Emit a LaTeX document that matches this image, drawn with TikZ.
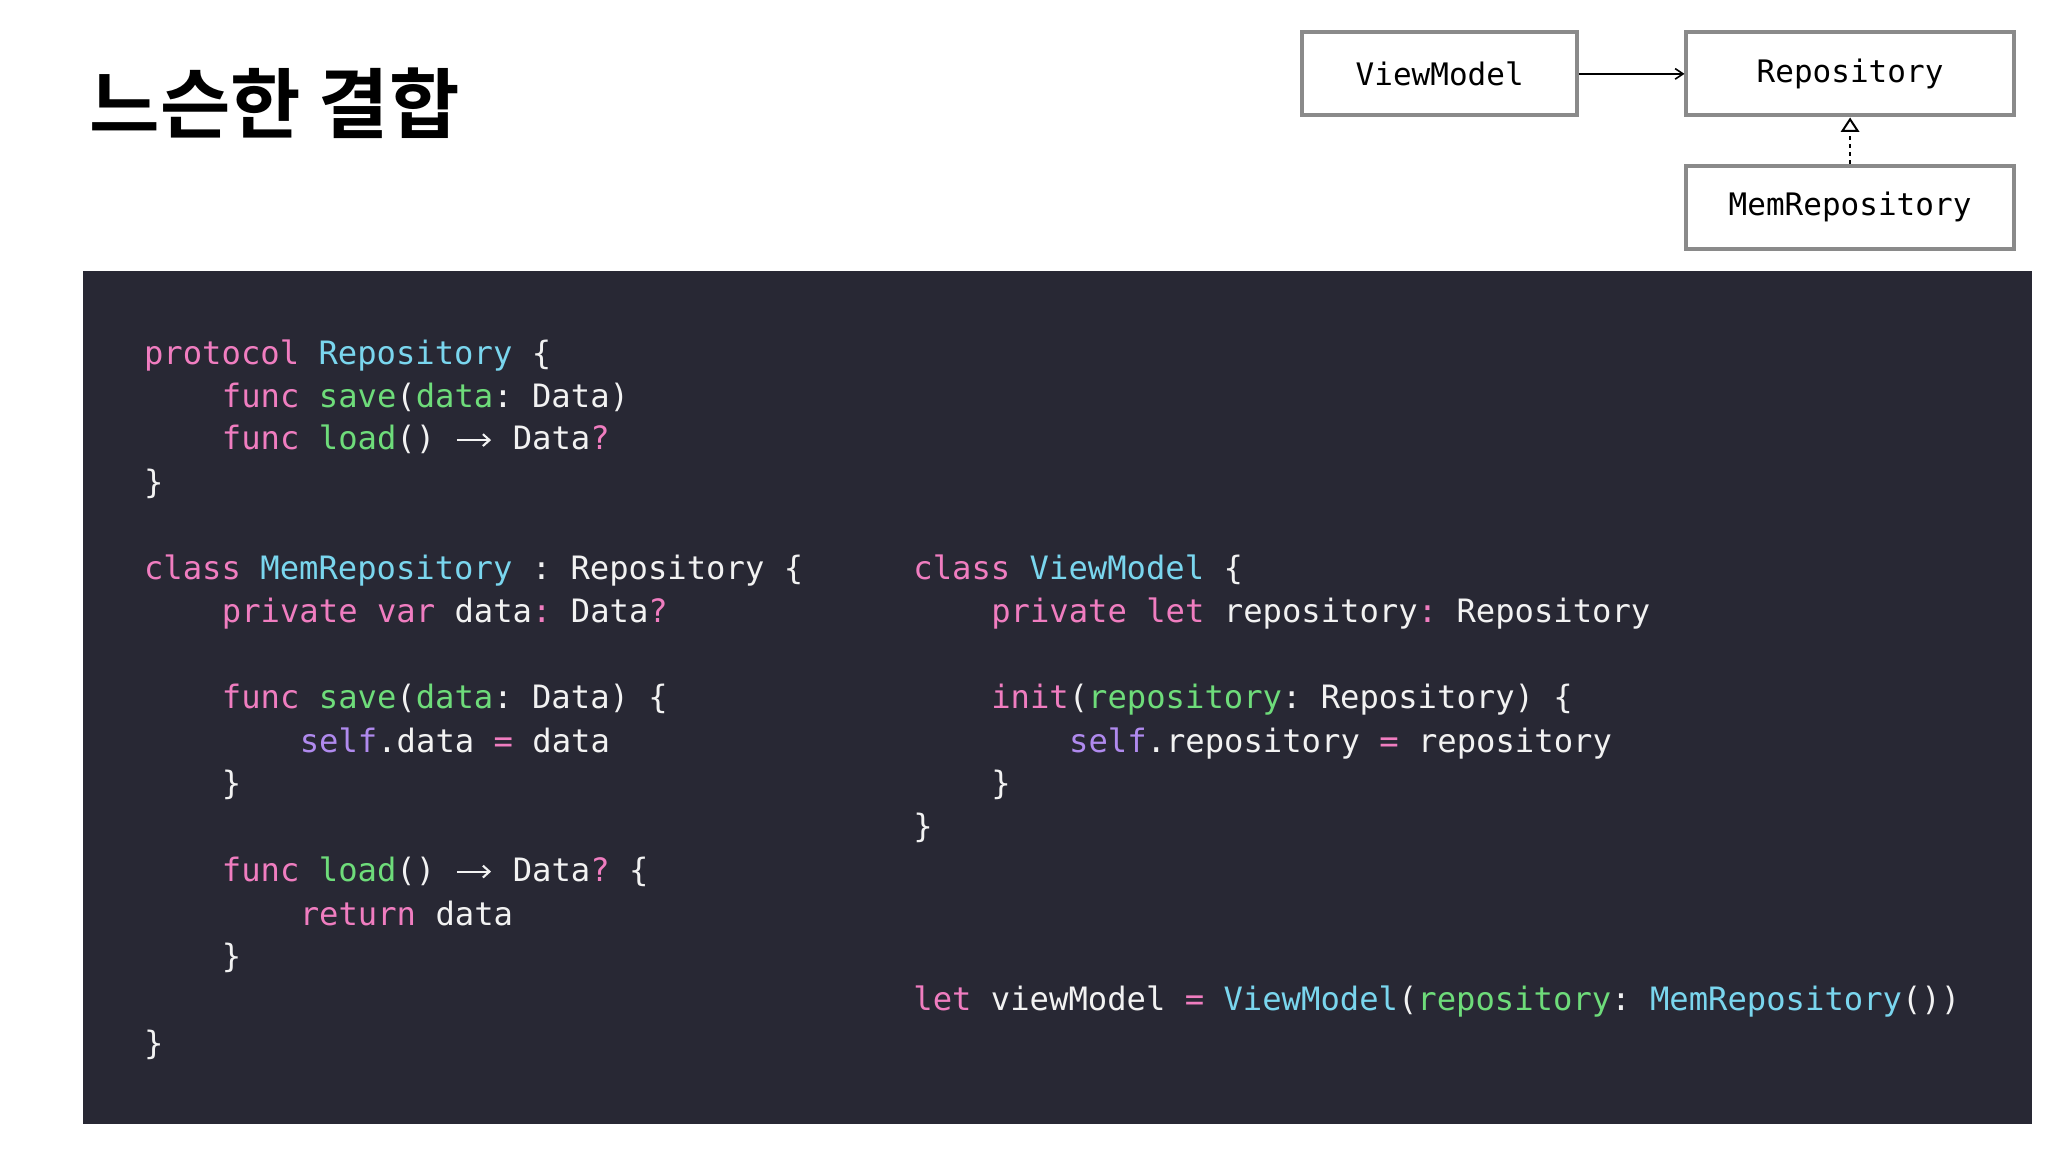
\documentclass[tikz,border=0pt]{standalone}
\usepackage{fontspec}
\usetikzlibrary{arrows.meta}
\newfontfamily\cjk{Noto Sans CJK KR}[BoldFont={* Bold}]
\setmonofont{DejaVu Sans Mono}
\definecolor{bg}{HTML}{282834}
\definecolor{kw}{HTML}{F07DC0}
\definecolor{ty}{HTML}{7AD6EE}
\definecolor{fn}{HTML}{6EDC7A}
\definecolor{sf}{HTML}{B08AEE}
\definecolor{tx}{HTML}{F2F2F2}
\definecolor{bd}{HTML}{8A8A8A}
\newcommand{\cK}[1]{\textcolor{kw}{#1}}
\newcommand{\cT}[1]{\textcolor{ty}{#1}}
\newcommand{\cF}[1]{\textcolor{fn}{#1}}
\newcommand{\cS}[1]{\textcolor{sf}{#1}}
\newcommand{\cArr}{\makebox[29.4pt][c]{\tikz[baseline=-7.5pt]\draw[tx,line width=1.6pt,-{Straight Barb[length=5pt,width=9pt]}] (0,0) -- (26,0);}}
\tikzset{x=1pt,y=-1pt,
 code/.style={anchor=base west,inner sep=0pt,text=tx,font=\ttfamily\fontsize{24.4pt}{24pt}\selectfont},
 umlbox/.style={draw=bd,line width=3pt,minimum height=63pt,inner sep=0pt,font=\ttfamily\fontsize{23.5pt}{24pt}\selectfont}}
\begin{document}
\begin{tikzpicture}
\useasboundingbox (0,0) rectangle (1552,873);
\fill[white] (0,0) rectangle (1552,873);
\node[anchor=west,inner sep=0pt,font=\cjk\bfseries\fontsize{58pt}{60pt}\selectfont] (title) at (68,78) {느슨한 결합};
\fill[bg] (63,205) rectangle (1540,852);
\node[umlbox,minimum width=208pt] (vm) at (1091,56) {ViewModel};
\node[umlbox,minimum width=248pt] (repo) at (1402,56) {Repository};
\node[umlbox,minimum width=248pt] (mem) at (1402,157) {MemRepository};
\draw[-{Straight Barb[length=6pt,width=8pt]},line width=1.2pt] (vm.east) -- (repo.west);
\draw[dash pattern=on 3pt off 3pt,line width=1.5pt,-{Triangle[open,length=11pt,width=14pt,line width=1.5pt]}] (mem.north) -- (repo.south);
% left column
\node[code] (l1) at (109,276) {\cK{protocol} \cT{Repository} \{};
\node[code] (l2) at (168,309) {\cK{func} \cF{save}(\cF{data}: Data)};
\node[code] (l3) at (168,341) {\cK{func} \cF{load}() \cArr\ Data\cK{?}};
\node[code] (l4) at (109,374) {\}};
\node[code] (l5) at (109,439) {\cK{class} \cT{MemRepository} : Repository \{};
\node[code] (l6) at (168,472) {\cK{private} \cK{var} data\cK{:} Data\cK{?}};
\node[code] (l7) at (168,537) {\cK{func} \cF{save}(\cF{data}: Data) \{};
\node[code] (l8) at (227,570) {\cS{self}.data \cK{=} data};
\node[code] (l9) at (168,602) {\}};
\node[code] (l10) at (168,668) {\cK{func} \cF{load}() \cArr\ Data\cK{?} \{};
\node[code] (l11) at (227,701) {\cK{return} data};
\node[code] (l12) at (168,733) {\}};
\node[code] (l13) at (109,799) {\}};
% right column
\node[code] (r1) at (692,439) {\cK{class} \cT{ViewModel} \{};
\node[code] (r2) at (751,472) {\cK{private} \cK{let} repository\cK{:} Repository};
\node[code] (r3) at (751,537) {\cK{init}(\cF{repository}: Repository) \{};
\node[code] (r4) at (810,570) {\cS{self}.repository \cK{=} repository};
\node[code] (r5) at (751,602) {\}};
\node[code] (r6) at (692,635) {\}};
\node[code] (r7) at (692,766) {\cK{let} viewModel \cK{=} \cT{ViewModel}(\cF{repository}: \cT{MemRepository}())};
\end{tikzpicture}
\end{document}
